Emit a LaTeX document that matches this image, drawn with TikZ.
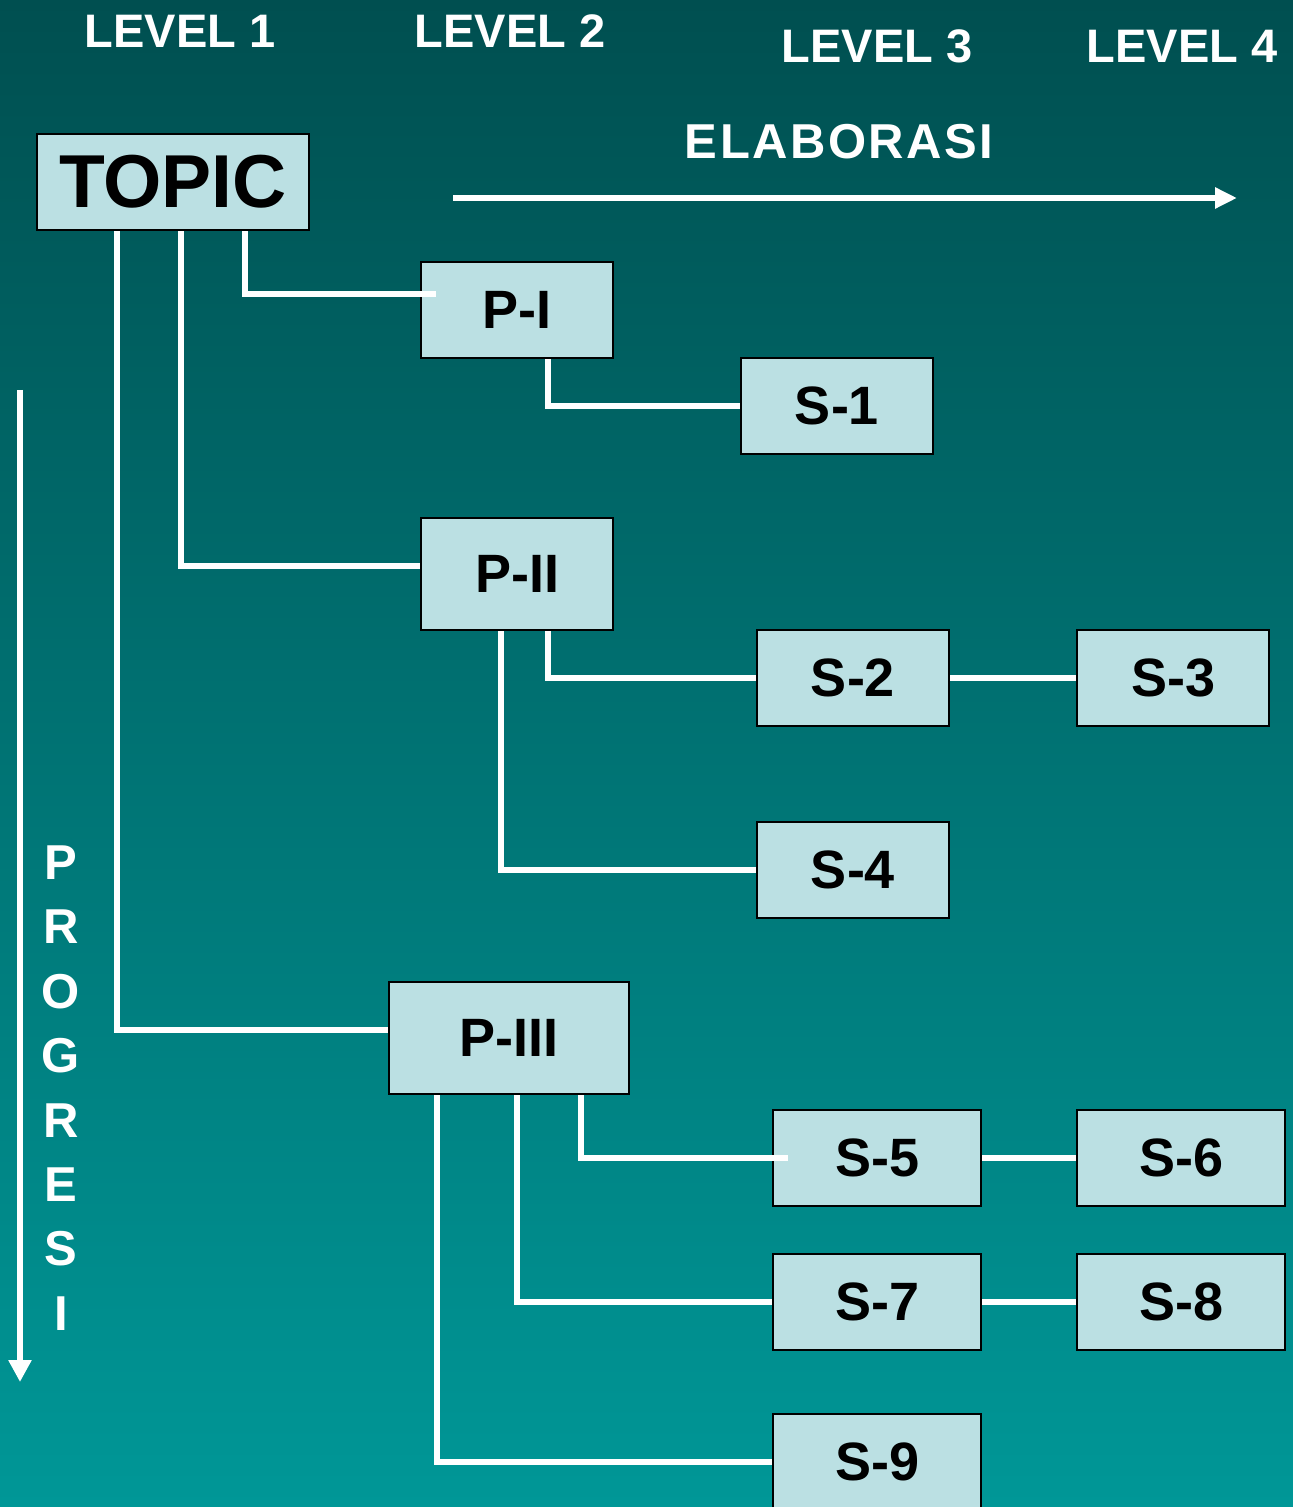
\documentclass[tikz,border=0pt]{standalone}
\usepackage{fontspec}
\setmainfont{Liberation Sans}
\usetikzlibrary{positioning,arrows.meta}
\definecolor{bgtop}{HTML}{004F50}
\definecolor{bgbottom}{HTML}{009797}
\definecolor{boxblue}{HTML}{BBE0E3}

\begin{document}
\begin{tikzpicture}[
        x = 0.5pt,
        y = -0.5pt,
        node distance = 160pt,
        semithick
        ]

        \tikzstyle{box}=[
                draw = black,
                line width = 1.25pt,
                fill = boxblue,
                inner sep = 0pt,
                minimum width = 96pt,
                minimum height = 48pt,
                font = \bfseries\fontsize{27}{30}\selectfont
        ]
        \tikzstyle{link}=[white, line width = 2.75pt]
        \tikzstyle{heading}=[white, font = \bfseries\fontsize{23.5}{28}\selectfont]

        \useasboundingbox (0,0) rectangle (1293,1507);
        \shade[top color = bgtop, bottom color = bgbottom] (0,0) rectangle (1293,1507);

        % headings
        \node[heading] (lv1) at (180,31) {LEVEL 1};
        \node[heading] (lv2) at (510,31) {LEVEL 2};
        \node[heading] (lv3) at (877,46) {LEVEL 3};
        \node[heading] (lv4) at (1182,46) {LEVEL 4};
        \node[heading, font = \bfseries\fontsize{24.5}{28}\selectfont\addfontfeatures{LetterSpace=5}] (elab) at (839,142) {ELABORASI};
        \node[heading, align = center, font = \bfseries\fontsize{24.5}{32.2}\selectfont] (prog) at (61,1088) {P\\R\\O\\G\\R\\E\\S\\I};

        \coordinate (e1) at (453,198);
        \coordinate (e2) at (1237,198);
        \coordinate (g1) at (20,390);
        \coordinate (g2) at (20,1382);
        \draw[link, -{Triangle[width = 10pt, length = 11pt]}] (e1) -- (e2);
        \draw[link, -{Triangle[width = 11pt, length = 11pt]}] (g1) -- (g2);

        % boxes
        \node[box, minimum width = 136pt, font = \bfseries\fontsize{37.5}{40}\selectfont] (topic) at (173,182) {TOPIC};
        \node[box] (p1) at (517,310) {P-I};
        \node[box] (s1) at (837,406) {S-1};
        \node[box, minimum height = 56pt] (p2) at (517,574) {P-II};
        \node[box] (s2) at (853,678) {S-2};
        \node[box] (s3) [right of=s2] {S-3};
        \node[box] (s4) at (853,870) {S-4};
        \node[box, minimum width = 120pt, minimum height = 56pt] (p3) at (509,1038) {P-III};
        \node[box, minimum width = 104pt] (s5) at (877,1158) {S-5};
        \node[box, minimum width = 104pt] (s6) [right of=s5, node distance = 152pt] {S-6};
        \node[box, minimum width = 104pt] (s7) at (877,1302) {S-7};
        \node[box, minimum width = 104pt] (s8) [right of=s7, node distance = 152pt] {S-8};
        \node[box, minimum width = 104pt] (s9) at (877,1462) {S-9};

        % connectors
        \draw[link] ([xshift = 36pt]topic.south) |- ([xshift = 8pt, yshift = 8pt]p1.west);
        \draw[link] ([xshift = 4pt]topic.south) |- ([yshift = 4pt]p2.west);
        \draw[link] ([xshift = -28pt]topic.south) |- ([yshift = 4pt]p3.west);
        \draw[link] ([xshift = 15.5pt]p1.south) |- (s1.west);
        \draw[link] ([xshift = 15.5pt]p2.south) |- (s2.west);
        \draw[link] ([xshift = -8pt]p2.south) |- (s4.west);
        \draw[link] (s2) -- (s3);
        \draw[link] ([xshift = 36pt]p3.south) |- ([xshift = 8pt]s5.west);
        \draw[link] ([xshift = 4pt]p3.south) |- (s7.west);
        \draw[link] ([xshift = -36pt]p3.south) |- (s9.west);
        \draw[link] (s5) -- (s6);
        \draw[link] (s7) -- (s8);
\end{tikzpicture}
\end{document}
